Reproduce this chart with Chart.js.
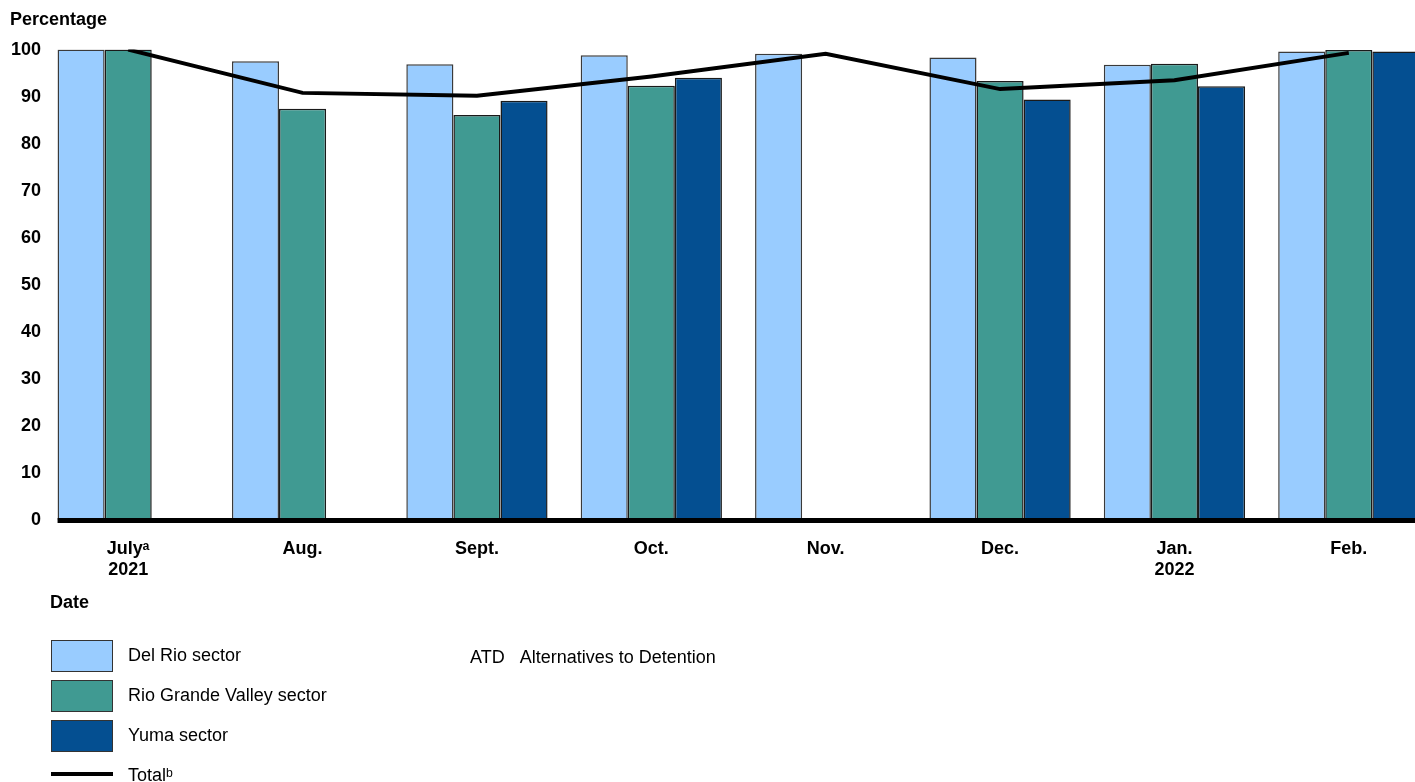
<!DOCTYPE html>
<html>
<head>
<meta charset="utf-8">
<script src="https://cdn.jsdelivr.net/npm/chart.js@4/dist/chart.umd.min.js"></script>
<style>
  html, body { margin: 0; padding: 0; background: #fff; overflow: hidden; }
  body { width: 1415px; height: 782px; position: relative; font-family: "Liberation Sans", Arial, sans-serif; }
  #wrap { position: absolute; left: 0; top: 0; width: 1440px; height: 782px; }
  .date { position: absolute; left: 50px; top: 592px; font-weight: bold; font-size: 18px; }
  .legend { position: absolute; left: 51px; top: 640px; font-size: 18px; }
  .item { position: relative; height: 40px; }
  .box { position: absolute; left: 0; top: 0; width: 60px; height: 30px; border: 1px solid #333; }
  .dash { position: absolute; left: 0; top: 12px; width: 62px; height: 4px; background: #000; }
  .lbl { position: absolute; left: 77px; top: 5px; white-space: nowrap; }
  .atd { position: absolute; left: 470px; top: 647px; font-size: 18px; white-space: nowrap; }
  .atd span { margin-left: 15px; }
</style>
</head>
<body>
<div id="wrap"><canvas id="chart"></canvas></div>
<div class="date">Date</div>
<div class="legend" id="legend"></div>
<div class="atd">ATD<span>Alternatives to Detention</span></div>
<script>
// Percentage by month
const months = [["July\u1d43", "2021"], "Aug.", "Sept.", "Oct.", "Nov.", "Dec.", ["Jan.", "2022"], "Feb."];
const delRio = [100, 97.5, 96.9, 98.8, 99.1, 98.3, 96.8, 99.6];
const rioGrande = [100, 87.4, 86.1, 92.3, null, 93.3, 97.0, 99.9];
const yuma = [null, null, 89.1, 94.0, null, 89.4, 92.2, 99.6];
const total = [100, 90.8, 90.2, 94.3, 99.1, 91.6, 93.5, 99.3];
const yTicks = [0, 10, 20, 30, 40, 50, 60, 70, 80, 90, 100];

const FONT = "'Liberation Sans', Arial, sans-serif";

// thick baseline starting at the first bar
const baseline = {
  id: "baseline",
  afterDatasetsDraw(chart) {
    const bar = chart.getDatasetMeta(0).data[0];
    const ctx = chart.ctx;
    const y = chart.scales.y.getPixelForValue(0);
    ctx.save();
    ctx.fillStyle = "#000";
    ctx.fillRect(bar.x - bar.width / 2, y - 2, chart.width, 5);
    ctx.restore();
  },
};

const datasets = [
  { type: "bar", label: "Del Rio sector", data: delRio, backgroundColor: "#99CCFF", borderColor: "#3a3a3a", borderWidth: 1.5, order: 1 },
  { type: "bar", label: "Rio Grande Valley sector", data: rioGrande, backgroundColor: "#409A92", borderColor: "#1a1a1a", borderWidth: 1.5, order: 1 },
  { type: "bar", label: "Yuma sector", data: yuma, backgroundColor: "#044F91", borderColor: "#1a1a1a", borderWidth: 1.5, order: 1 },
  { type: "line", label: "Total\u1d47", data: total, borderColor: "#000", borderWidth: 4, pointRadius: 0, tension: 0, order: 0 },
];

const chart = new Chart(document.getElementById("chart"), {
  data: { labels: months, datasets: datasets },
  options: {
    responsive: true,
    maintainAspectRatio: false,
    animation: false,
    categoryPercentage: 0.81,
    barPercentage: 1.0,
    layout: { padding: { left: 10, right: 4, top: 0, bottom: 0 } },
    plugins: {
      legend: { display: false },
      tooltip: { enabled: false },
      title: {
        display: true,
        text: "Percentage",
        align: "start",
        color: "#000",
        font: { family: FONT, size: 18, weight: "bold" },
        padding: { top: 9, bottom: 19 },
      },
    },
    scales: {
      x: {
        grid: { display: false, drawTicks: false },
        border: { display: false },
        ticks: { color: "#000", font: { family: FONT, size: 18, weight: "bold" }, padding: 18, maxRotation: 0, autoSkip: false },
        afterFit(scale) { scale.height = 262; },
      },
      y: {
        min: 0,
        max: 100,
        grid: { display: false, drawTicks: false },
        border: { display: false },
        afterBuildTicks(scale) { scale.ticks = yTicks.map(v => ({ value: v })); },
        ticks: { color: "#000", font: { family: FONT, size: 18, weight: "bold" }, padding: 0 },
        afterFit(scale) { scale.width = 31; },
      },
    },
  },
  plugins: [baseline],
});

// legend built from the dataset definitions
const legend = document.getElementById("legend");
datasets.forEach(ds => {
  const item = document.createElement("div");
  item.className = "item";
  const mark = document.createElement("div");
  if (ds.type === "bar") {
    mark.className = "box";
    mark.style.background = ds.backgroundColor;
  } else {
    mark.className = "dash";
  }
  const lbl = document.createElement("div");
  lbl.className = "lbl";
  lbl.textContent = ds.label;
  item.appendChild(mark);
  item.appendChild(lbl);
  legend.appendChild(item);
});
</script>
</body>
</html>
